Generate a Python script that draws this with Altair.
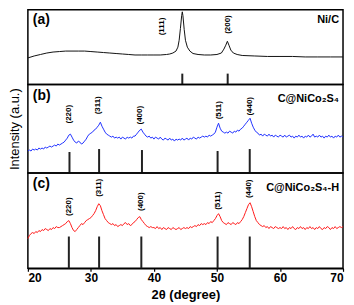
import altair as alt
import pandas as pd

FONT = "Liberation Sans"

# ---------------- data ----------------
# (a) Ni/C  (smooth pattern, non-uniform sampling)
a_theta = [20, 21, 22, 23, 24, 25, 26, 27, 28, 29, 30, 31, 32, 33, 34, 35, 36, 37, 38, 39,
           40, 41, 42, 42.5, 43, 43.5, 43.8, 44.0, 44.2, 44.4, 44.5, 44.6, 44.8, 45.0, 45.3,
           45.7, 46.2, 47, 48, 49, 50, 50.7, 51.1, 51.4, 51.65, 51.9, 52.2, 52.6, 53.2, 54,
           56, 58, 60, 62, 64, 66, 68, 70]
a_int = [27, 29, 30.5, 32, 33, 33.5, 34, 34, 34, 34, 33.5, 33, 32.5, 32, 31.5, 31, 30.5, 30, 30, 30,
         30, 30, 30.5, 31, 32, 34, 38, 45, 57, 70, 74, 70, 56, 45, 38,
         34, 31.5, 30.5, 30, 30, 30.5, 32, 36, 40, 44, 40, 35, 32, 30.5, 29.5,
         29, 28.5, 28.5, 28.5, 28, 28, 28, 28]

# (b) C@NiCo2S4, 2theta = 20 ... 70 step 0.25
b_int = [22, 23, 22, 24, 23, 24, 23, 25, 24, 25, 24, 26, 25, 26, 27, 26, 27, 28, 27, 29,
         28, 29, 30, 31, 33, 35, 38, 39, 36, 33, 31, 30, 32, 31, 29, 30, 32, 34, 37, 39,
         40, 41, 43, 44, 46, 48, 51, 47, 44, 41, 39, 38, 37, 36, 37, 35, 36, 35, 36, 34,
         36, 35, 34, 36, 35, 36, 35, 37, 37, 39, 41, 43, 44, 41, 39, 37, 36, 37, 35, 36,
         34, 36, 35, 34, 36, 34, 33, 35, 34, 33, 35, 33, 34, 32, 34, 33, 34, 33, 35, 33,
         34, 35, 33, 35, 34, 36, 35, 34, 36, 35, 36, 37, 36, 37, 36, 38, 37, 38, 39, 41,
         46, 50, 45, 42, 41, 40, 41, 40, 42, 41, 40, 42, 41, 43, 42, 44, 45, 47, 49, 51,
         53, 55, 50, 46, 43, 41, 40, 38, 39, 37, 39, 38, 37, 39, 37, 38, 36, 38, 37, 36,
         38, 37, 36, 38, 36, 37, 38, 36, 37, 35, 37, 36, 38, 36, 37, 35, 37, 36, 38, 36,
         37, 39, 36, 37, 36, 38, 36, 37, 35, 37, 36, 38, 36, 37, 35, 37, 36, 38, 36, 37,
         36]

# (c) C@NiCo2S4-H, 2theta = 20 ... 70 step 0.25
c_int = [30, 33, 35, 36, 35, 37, 36, 38, 37, 39, 38, 40, 39, 38, 40, 39, 41, 40, 42, 41,
         41, 42, 43, 44, 45, 47, 48, 45, 41, 38, 37, 39, 41, 43, 45, 44, 46, 48, 49, 50,
         51, 53, 55, 58, 62, 65, 63, 58, 54, 50, 48, 46, 45, 44, 45, 43, 44, 42, 43, 44,
         43, 45, 46, 44, 45, 43, 44, 46, 47, 49, 51, 52, 49, 47, 45, 43, 42, 41, 42, 41,
         41, 40, 42, 40, 41, 39, 41, 40, 39, 41, 40, 39, 41, 40, 39, 40, 41, 39, 40, 41,
         40, 41, 40, 42, 41, 42, 43, 42, 44, 43, 45, 44, 45, 44, 46, 45, 47, 46, 48, 50,
         53, 55, 52, 48, 46, 45, 44, 46, 45, 44, 46, 45, 44, 46, 45, 47, 49, 52, 56, 60,
         64, 66, 62, 57, 52, 48, 46, 44, 43, 42, 43, 41, 42, 40, 42, 41, 40, 42, 41, 40,
         41, 40, 42, 40, 41, 39, 41, 40, 42, 40, 39, 41, 40, 42, 40, 41, 39, 41, 40, 42,
         40, 41, 39, 41, 40, 42, 40, 39, 41, 40, 42, 41, 39, 41, 40, 42, 40, 41, 42, 41,
         42]

# reference (standard) lines
a_ref_pos = [44.5, 51.7]
a_ref_h = [11, 11]
b_ref_pos = [26.6, 31.3, 38.1, 50.1, 55.2]
b_ref_h = [21, 24, 23, 22, 24]
c_ref_pos = [26.5, 31.3, 38.0, 50.1, 55.2]
c_ref_h = [32, 32, 32, 32, 32]

# peak labels
a_lab = ["(111)", "(200)"]
a_lab_x = [41.3, 51.8]
a_lab_y = [59, 61]
b_lab = ["(220)", "(311)", "(400)", "(511)", "(440)"]
b_lab_x = [26.5, 31.2, 37.8, 50.3, 55.2]
b_lab_y = [59, 68, 58, 63, 67]
c_lab = ["(220)", "(311)", "(400)", "(511)", "(440)"]
c_lab_x = [26.5, 31.3, 37.9, 50.2, 55.1]
c_lab_y = [62, 81, 67, 68, 80]

x_ticks = [20, 25, 30, 35, 40, 45, 50, 55, 60, 65, 70]

W = 317
grid = [20 + 0.25 * i for i in range(201)]


def panel(theta, inten, color, rpos, rh, labs, lx, ly, letter, name, h, ymax,
          letter_y, name_y, bottom=False, ytitle=False):
    xscale = alt.Scale(domain=[20, 70], nice=False, zero=False)
    yscale = alt.Scale(domain=[0, ymax], nice=False, zero=True)
    if bottom:
        xaxis = alt.Axis(values=x_ticks, title="2θ (degree)",
                         labelExpr="datum.value % 10 == 0 ? datum.label : ''",
                         grid=False, tickSize=3, tickColor="black", tickWidth=1.2,
                         domainColor="black", domainWidth=1.5,
                         labelFont=FONT, labelFontSize=12, labelFontWeight="bold",
                         labelColor="black", labelPadding=1,
                         titleFont=FONT, titleFontSize=13, titleFontWeight="bold",
                         titleColor="black", titlePadding=5)
    else:
        xaxis = None
    if ytitle:
        yaxis = alt.Axis(title="Intensity (a.u.)", labels=False, ticks=False,
                         domain=False, grid=False, titleFont=FONT, titleFontSize=13,
                         titleFontWeight="normal", titleColor="black", titlePadding=6)
    else:
        yaxis = alt.Axis(title=None, labels=False, ticks=False, domain=False,
                         grid=False)

    df = pd.DataFrame({"t": theta, "i": inten})
    line = alt.Chart(df).mark_line(color=color, strokeWidth=1).encode(
        x=alt.X("t:Q", scale=xscale, axis=xaxis),
        y=alt.Y("i:Q", scale=yscale, axis=yaxis),
    )
    sdf = pd.DataFrame({"t": rpos, "h": rh, "b": [0] * len(rpos)})
    sticks = alt.Chart(sdf).mark_rule(color="#222222", strokeWidth=2).encode(
        x=alt.X("t:Q", scale=xscale),
        y=alt.Y("h:Q", scale=yscale),
        y2="b:Q",
    )
    ldf = pd.DataFrame({"t": lx, "y": ly, "s": labs})
    labels = alt.Chart(ldf).mark_text(
        angle=270, font=FONT, fontSize=8, fontWeight="bold", color="black",
        align="center", baseline="middle"
    ).encode(x=alt.X("t:Q", scale=xscale), y=alt.Y("y:Q", scale=yscale), text="s:N")
    let = alt.Chart(pd.DataFrame({"s": [letter]})).mark_text(
        font=FONT, fontSize=14, fontWeight="bold", color="black",
        align="left", baseline="middle"
    ).encode(x=alt.value(5), y=alt.value(letter_y), text="s:N")
    nm = alt.Chart(pd.DataFrame({"s": [name]})).mark_text(
        font=FONT, fontSize=11, fontWeight="bold", color="black",
        align="right", baseline="middle"
    ).encode(x=alt.value(W - 4), y=alt.value(name_y), text="s:N")
    return alt.layer(line, sticks, labels, let, nm).properties(width=W, height=h)


pa = panel(a_theta, a_int, "#111111", a_ref_pos, a_ref_h, a_lab, a_lab_x, a_lab_y,
           "(a)", "Ni/C", 75, 76, 10, 10)
pb = panel(grid, b_int, "#2233ff", b_ref_pos, b_ref_h, b_lab, b_lab_x, b_lab_y,
           "(b)", "C@NiCo₂S₄", 89, 89, 12, 15, ytitle=True)
pc = panel(grid, c_int, "#ff1a1a", c_ref_pos, c_ref_h, c_lab, c_lab_x, c_lab_y,
           "(c)", "C@NiCo₂S₄-H", 96, 96, 11, 15, bottom=True)

chart = (
    alt.vconcat(pa, pb, pc, spacing=0, bounds="flush")
    .properties(padding=0)
    .configure_concat(spacing=0)
    .configure_view(stroke="black", strokeWidth=1.5)
)

chart.save("out.html", embed_options={"renderer": "svg", "actions": False})
